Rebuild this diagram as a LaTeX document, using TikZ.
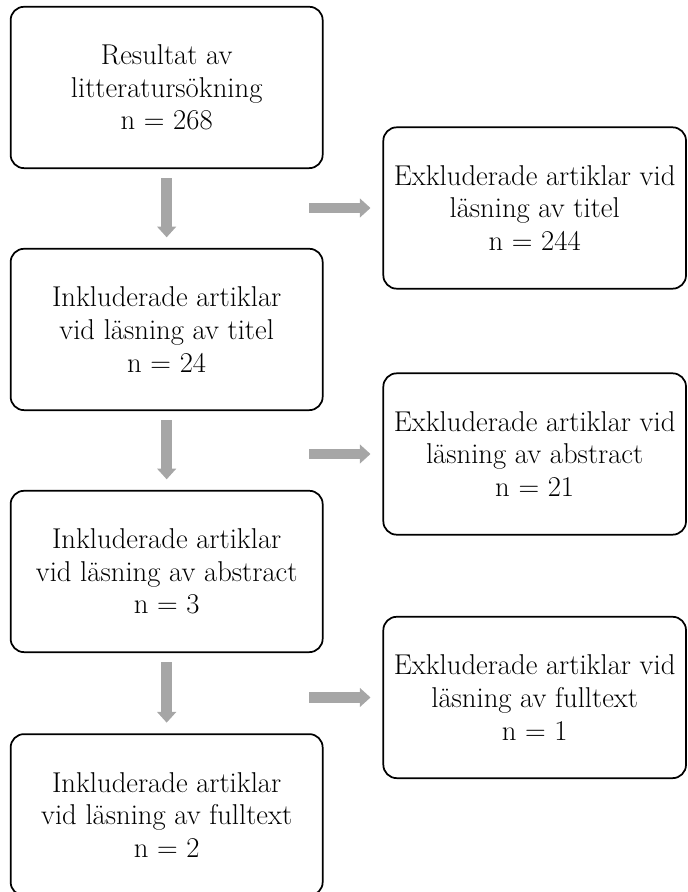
\documentclass[tikz,border=0pt]{standalone}
\usepackage{fontspec}
\usepackage{tikz}
\usetikzlibrary{positioning,arrows.meta}

\definecolor{pilgra}{RGB}{166,166,166}

\begin{document}
\begin{tikzpicture}[node distance=181.5pt, on grid,
  ruta/.style={draw, rounded corners=10pt, line width=1.3pt, minimum width=234pt, minimum height=121pt, inner sep=2pt, align=center, font=\fontsize{21.5}{24.5}\selectfont},
  uteruta/.style={ruta, minimum width=227pt},
  pil/.style={draw=pilgra, line width=8pt, -{Triangle[length=8pt, width=14.5pt, fill=pilgra, line width=0pt]}}]

\useasboundingbox (0,0) rectangle (516pt,-669pt);

% vänster kolumn
\node[ruta] (res) at (125pt,-65.6pt) {Resultat av\\litteratursökning\\n = 268};
\node[ruta, below = of res] (titel) {Inkluderade artiklar\\vid läsning av titel\\n = 24};
\node[ruta, below = of titel] (abstr) {Inkluderade artiklar\\vid läsning av abstract\\n = 3};
\node[ruta, below = 182.5pt of abstr] (full) {Inkluderade artiklar\\vid läsning av fulltext\\n = 2};

% höger kolumn
\node[uteruta, below right = 90.4pt and 276pt of res] (ex_titel) {Exkluderade artiklar vid\\läsning av titel\\n = 244};
\node[uteruta, below = 184.5pt of ex_titel] (ex_abstr) {Exkluderade artiklar vid\\läsning av abstract\\n = 21};
\node[uteruta, below = 182.6pt of ex_abstr] (ex_full) {Exkluderade artiklar vid\\läsning av fulltext\\n = 1};

\coordinate[left = 54.75pt of ex_titel.west] (p_titel);
\coordinate[left = 54.75pt of ex_abstr.west] (p_abstr);
\coordinate[left = 54.75pt of ex_full.west] (p_full);

\path[every edge/.style={pil, shorten <=7pt, shorten >=8pt}]
(res) edge (titel)
(titel) edge (abstr)
(abstr) edge (full);

\path[every edge/.style={pil, shorten >=9pt}]
(p_titel) edge (ex_titel)
(p_abstr) edge (ex_abstr)
(p_full) edge (ex_full);
\end{tikzpicture}
\end{document}
